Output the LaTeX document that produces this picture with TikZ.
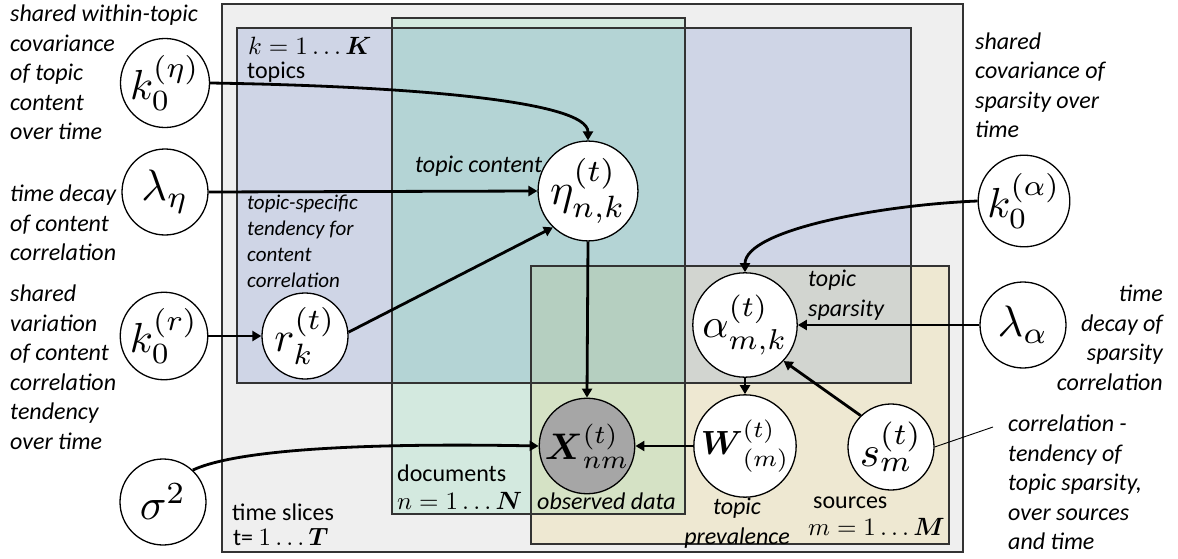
\documentclass[tikz,border=0pt]{standalone}
\usepackage{amsmath}
\usepackage{graphicx}
\usepackage[no-math]{fontspec}
\setmainfont{Carlito}
\usetikzlibrary{arrows.meta}
\definecolor{cG}{HTML}{EFEFEF}
\definecolor{cT}{HTML}{CFD5E6}
\definecolor{cD}{HTML}{D3E9DF}
\definecolor{cDT}{HTML}{B4D4D5}
\definecolor{cS}{HTML}{EEE8D2}
\definecolor{cST}{HTML}{D2D5D0}
\definecolor{cSD}{HTML}{D5E2C5}
\definecolor{cSDT}{HTML}{B5CFC0}
\definecolor{cBorder}{HTML}{333333}
\definecolor{cObs}{HTML}{A6A6A6}
\newcommand{\varlab}[2][4.2]{{\fontsize{10}{12}\selectfont\scalebox{#1}{$#2$}}}
\newcommand{\platemath}[1]{{\fontsize{10}{12}\selectfont\scalebox{2.5}{$#1$}}}
\tikzset{
  plate/.style={draw=cBorder, line width=1.2pt},
  var/.style={circle, draw=black, line width=1.3pt, fill=white, minimum size=86pt, inner sep=0pt},
  obsvar/.style={var, fill=cObs},
  edge/.style={line width=2.8pt, -{Triangle[length=9pt,width=10pt]}},
  note/.style={inner sep=0pt, font=\itshape\fontsize{24}{29.5}\selectfont, align=left},
  notesmall/.style={inner sep=0pt, font=\itshape\fontsize{21}{26}\selectfont, align=left},
  plabel/.style={inner sep=0pt, font=\fontsize{24}{29.5}\selectfont},
  mlabel/.style={inner sep=0pt},
}
\begin{document}
\begin{tikzpicture}[x=1pt,y=-1pt]
\useasboundingbox (0,0) rectangle (1178,559);
% plates: fills
\fill[cG] (222,4) rectangle (963,552);
\fill[cT] (237,28) rectangle (911,383);
\fill[cD] (392,18) rectangle (685,514);
\begin{scope}
  \clip (237,28) rectangle (911,383);
  \fill[cDT] (392,18) rectangle (685,514);
\end{scope}
\fill[cS] (531,266) rectangle (949,544);
\begin{scope}
  \clip (237,28) rectangle (911,383);
  \fill[cST] (531,266) rectangle (949,544);
\end{scope}
\begin{scope}
  \clip (392,18) rectangle (685,514);
  \fill[cSD] (531,266) rectangle (949,544);
\end{scope}
\begin{scope}
  \clip (392,18) rectangle (685,514);
  \clip (237,28) rectangle (911,383);
  \fill[cSDT] (531,266) rectangle (949,544);
\end{scope}
% plates: borders
\draw[plate] (222,4) rectangle (963,552);
\draw[plate] (237,28) rectangle (911,383);
\draw[plate] (392,18) rectangle (685,514);
\draw[plate] (531,266) rectangle (949,544);

% variables
\node[var] (k0eta) at (165,83) {\varlab{k_0^{(\eta)}}};
\node[var] (leta) at (165,192) {\varlab[4.4]{\lambda_\eta}};
\node[var] (k0r) at (164,336) {\varlab{k_0^{(r)}}};
\node[var] (r) at (305,336) {\varlab{r_k^{(t)}}};
\node[var] (sig) at (163,502) {\varlab[4.4]{\sigma^2}};
\node[var] (eta) at (588,191) {\varlab[4.4]{\eta_{n,k}^{(t)}}};
\node[var] (alpha) at (745,325) {\varlab[4.1]{\alpha_{m,k}^{(t)}}};
\node[var] (lal) at (1023,325) {\varlab[4.4]{\lambda_\alpha}};
\node[var] (k0al) at (1024,201) {\varlab{k_0^{(\alpha)}}};
\node[obsvar] (X) at (587,446) {\varlab[3.7]{\boldsymbol{X}_{nm}^{(t)}}};
\node[var] (W) at (745,446) {\varlab[3.35]{\boldsymbol{W}_{(m)}^{(t)}}};
\node[var] (s) at (891,447) {\varlab[4.3]{s_m^{(t)}}};
\coordinate (sann) at (993,427);

% edges
\draw[edge] (k0eta.east) .. controls (400,86) and (588,100) .. (eta.north);
\draw[edge] (leta.east) -- (eta.west);
\draw[edge] (k0r.east) -- (r.west);
\draw[edge] (r.5) -- (eta.226);
\draw[edge] (eta.south) -- (X.north);
\draw[edge] (sig.47) .. controls (240,448) and (380,443) .. (X.west);
\draw[edge] (W.west) -- (X.east);
\draw[edge] (alpha.south) -- (W.north);
\draw[edge] (s.134) -- (alpha.317);
\draw[edge] (lal.west) -- (alpha.east);
\draw[edge] (k0al.west) .. controls (880,205) and (745,230) .. (alpha.north);
\draw[line width=0.9pt] (s.east) -- (sann);

% plate labels
\node[mlabel, anchor=base west] (lk) at (248,55) {\platemath{k = 1 \ldots \boldsymbol{K}}};
\node[plabel, anchor=base west] (ltopics) at (247,79) {topics};
\node[plabel, anchor=base west] (ldocs) at (397,481) {documents};
\node[mlabel, anchor=base west] (ln) at (397,509) {\platemath{n = 1 \ldots \boldsymbol{N}}};
\node[plabel, anchor=base west] (lsrc) at (813,508) {sources};
\node[mlabel, anchor=base east] (lm) at (945,535) {\platemath{m = 1 \ldots \boldsymbol{M}}};
\node[plabel, anchor=base west] (ltime) at (232,520) {time slices};
\node[plabel, anchor=base west] (lt) at (233,545) {t= \platemath{1 \ldots \boldsymbol{T}}};

% inner annotations
\node[note, anchor=base west] (atc) at (415,172) {topic content};
\node[notesmall, anchor=north west] (ats) at (247,191) {\strut topic-specific\\tendency for\\content\\correlation};
\node[note, anchor=base west] (aobs) at (537,509) {observed data};
\node[note, anchor=north, align=center] (aprev) at (737,494) {\strut topic\\prevalence};
\node[note, anchor=north west] (aspars) at (808,266) {\strut topic\\sparsity};

% outer annotations
\node[note, anchor=north west] (n1) at (10,1) {\strut shared within-topic\\covariance\\of topic\\content\\over time};
\node[note, anchor=north west] (n2) at (10,181) {\strut time decay\\of content\\correlation};
\node[note, anchor=north west] (n3) at (10,281) {\strut shared\\variation\\of content\\correlation\\tendency\\over time};
\node[note, anchor=north west] (n4) at (975,28.5) {\strut shared\\covariance of\\sparsity over\\time};
\node[note, anchor=north east, align=right] (n5) at (1163,281) {\strut time\\decay of\\sparsity\\correlation};
\node[note, anchor=north west] (n6) at (1008,411) {\strut correlation -\\tendency of\\topic sparsity,\\over sources\\and time};
\end{tikzpicture}
\end{document}
